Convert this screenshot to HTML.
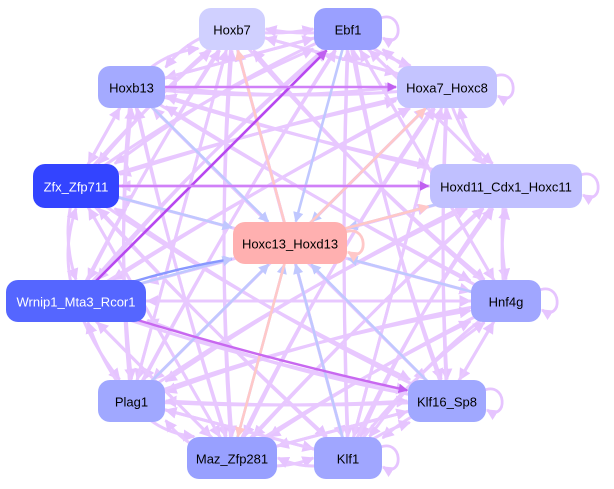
<!DOCTYPE html>
<html><head><meta charset="utf-8">
<style>
html,body{margin:0;padding:0;background:#fff;width:614px;height:489px;overflow:hidden}
svg{display:block}
text{font-family:"Liberation Sans",sans-serif;font-size:13px;text-anchor:middle;dominant-baseline:central}
</style></head><body>
<svg id="s" width="614" height="489" xmlns="http://www.w3.org/2000/svg">
<defs>
<marker id="ma" viewBox="0 0 10 10" refX="9" refY="5" markerWidth="4" markerHeight="4" orient="auto"><path d="M0,0L10,5L0,10z" fill="#e6c4ff"/></marker>
<marker id="mb" viewBox="0 0 10 10" refX="9" refY="5" markerWidth="4" markerHeight="4" orient="auto"><path d="M0,0L10,5L0,10z" fill="#c0c8ff"/></marker>
<marker id="mp" viewBox="0 0 10 10" refX="9" refY="5" markerWidth="4" markerHeight="4" orient="auto"><path d="M0,0L10,5L0,10z" fill="#ffc8c8"/></marker>
<marker id="md" viewBox="0 0 10 10" refX="9" refY="5" markerWidth="4" markerHeight="4" orient="auto"><path d="M0,0L10,5L0,10z" fill="#c060f0"/></marker>
</defs>
<g id="edges" fill="none"></g>
<g id="nodes"></g>
</svg>
<script>
var N={
Hoxb7:[199,8,66,42,'#d0d0ff','#000'],
Ebf1:[314,8,68,42,'#9aa0ff','#000'],
Hoxb13:[98,66,67,42,'#a4aaff','#000'],
Hoxa7_Hoxc8:[397,66,100,42,'#c4c4ff','#000'],
Zfx_Zfp711:[33,164,86,44,'#3344ff','#fff'],
Hoxd11_Cdx1_Hoxc11:[430,164,152,44,'#c0c0ff','#000'],
Hoxc13_Hoxd13:[233,222,114,42,'#ffb0b0','#000'],
Wrnip1_Mta3_Rcor1:[6,280,140,42,'#5566ff','#fff'],
Hnf4g:[471,280,70,42,'#a0a6ff','#000'],
Plag1:[98,380,67,42,'#a0a8ff','#000'],
Klf16_Sp8:[408,380,78,42,'#a0a8ff','#000'],
Maz_Zfp281:[187,437,90,42,'#98a0ff','#000'],
Klf1:[314,437,68,42,'#a0a6ff','#000']};
var ns='http://www.w3.org/2000/svg';
var E=document.getElementById('edges'),G=document.getElementById('nodes');
function c(k){var n=N[k];return [n[0]+n[2]/2,n[1]+n[3]/2];}
function edge(a,b,col,m,w,curv){
 var p=c(a),q=c(b);var dx=q[0]-p[0],dy=q[1]-p[1],L=Math.hypot(dx,dy);
 var nb=N[b];var t=Math.min(nb[2]/2/Math.abs(dx||1e-6),nb[3]/2/Math.abs(dy||1e-6));
 var ex=q[0]-dx*t*1.02,ey=q[1]-dy*t*1.02;
 var mx=(p[0]+ex)/2-dy/L*curv,my=(p[1]+ey)/2+dx/L*curv;
 var e=document.createElementNS(ns,'path');
 e.setAttribute('d','M'+p[0]+','+p[1]+'Q'+mx+','+my+' '+ex+','+ey);
 e.setAttribute('stroke',col);e.setAttribute('stroke-width',w);
 e.setAttribute('marker-end','url(#'+m+')');E.appendChild(e);
}
var K=Object.keys(N);
for(var i=0;i<K.length;i++)for(var j=0;j<K.length;j++){
 if(i==j)continue;var a=K[i],b=K[j];
 if(a=='Hoxc13_Hoxd13'||b=='Hoxc13_Hoxd13')continue;
 if((i*7+j*3)%5==0)continue;
 edge(a,b,'#e8c8ff','ma',3,(i<j?1:-1)*((i+j)%3)*8);
}
var blue=['Hoxb13','Zfx_Zfp711','Wrnip1_Mta3_Rcor1','Hnf4g','Plag1','Klf1','Ebf1','Hoxd11_Cdx1_Hoxc11','Maz_Zfp281','Klf16_Sp8','Hoxa7_Hoxc8'];
blue.forEach(function(k){edge(k,'Hoxc13_Hoxd13','#c0c8ff','mb',2.6,0);});
['Hoxb7','Hoxa7_Hoxc8','Hoxd11_Cdx1_Hoxc11','Maz_Zfp281'].forEach(function(k){edge('Hoxc13_Hoxd13',k,'#ffc8c8','mp',2.6,0);});
edge('Wrnip1_Mta3_Rcor1','Hoxc13_Hoxd13','#8898ff','mb',2.4,-8);
edge('Wrnip1_Mta3_Rcor1','Ebf1','#b848f0','md',2.6,0);
edge('Wrnip1_Mta3_Rcor1','Klf16_Sp8','#c868f0','md',2.4,8);
edge('Hoxb13','Hoxa7_Hoxc8','#d080f8','md',2.4,0);
edge('Zfx_Zfp711','Hoxd11_Cdx1_Hoxc11','#d080f8','md',2.4,0);
[['Ebf1',1],['Hoxa7_Hoxc8',1],['Hoxd11_Cdx1_Hoxc11',1],['Hnf4g',1],['Klf16_Sp8',1],['Klf1',1],['Hoxc13_Hoxd13',1]].forEach(function(s){
 var n=N[s[0]];var x=n[0]+n[2],y=n[1]+n[3]/2;
 var e=document.createElementNS(ns,'path');
 var col=s[0]=='Hoxc13_Hoxd13'?'#ffc8c8':'#e6c4ff';
 e.setAttribute('d','M'+(x-4)+','+(y-10)+'C'+(x+22)+','+(y-22)+' '+(x+22)+','+(y+22)+' '+(x+1)+','+(y+9));
 e.setAttribute('stroke',col);e.setAttribute('stroke-width',2.8);
 e.setAttribute('marker-end','url(#'+(col=='#ffc8c8'?'mp':'ma')+')');E.appendChild(e);
});
K.forEach(function(k){var n=N[k];
 var r=document.createElementNS(ns,'rect');
 r.setAttribute('x',n[0]);r.setAttribute('y',n[1]);r.setAttribute('width',n[2]);r.setAttribute('height',n[3]);
 r.setAttribute('rx',12);r.setAttribute('fill',n[4]);G.appendChild(r);
 var t=document.createElementNS(ns,'text');t.setAttribute('x',n[0]+n[2]/2);t.setAttribute('y',n[1]+n[3]/2+1);
 t.setAttribute('fill',n[5]);t.textContent=k;G.appendChild(t);});
</script>
</body></html>
